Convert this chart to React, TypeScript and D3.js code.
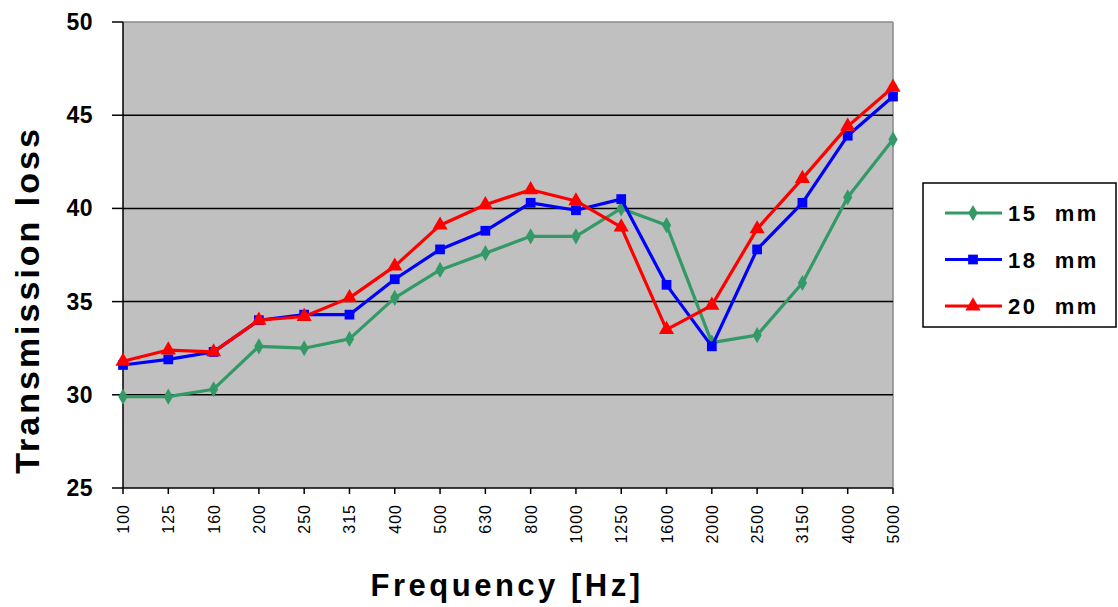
import React from "react";
import * as d3 from "d3";

const categories = ["100", "125", "160", "200", "250", "315", "400", "500", "630", "800", "1000", "1250", "1600", "2000", "2500", "3150", "4000", "5000"];
const s15 = [29.9, 29.9, 30.3, 32.6, 32.5, 33.0, 35.2, 36.7, 37.6, 38.5, 38.5, 40.0, 39.1, 32.8, 33.2, 36.0, 40.6, 43.7];
const s18 = [31.6, 31.9, 32.3, 34.0, 34.3, 34.3, 36.2, 37.8, 38.8, 40.3, 39.9, 40.5, 35.9, 32.6, 37.8, 40.3, 43.9, 46.0];
const s20 = [31.8, 32.4, 32.3, 34.0, 34.2, 35.2, 36.9, 39.1, 40.2, 41.0, 40.4, 39.0, 33.5, 34.8, 38.9, 41.6, 44.4, 46.5];
const seriesNames = ["15  mm", "18  mm", "20  mm"];
const yTicks = [25, 30, 35, 40, 45, 50];

const FONT = "Arial, 'Liberation Sans', sans-serif";

const series = [
  { name: seriesNames[0], values: s15, color: "#339966", marker: "diamond" },
  { name: seriesNames[1], values: s18, color: "#0000FF", marker: "square" },
  { name: seriesNames[2], values: s20, color: "#FF0000", marker: "triangle" },
];

function Marker({ type, x, y, color }: { type: string; x: number; y: number; color: string }) {
  let sym;
  if (type === "diamond") sym = d3.symbol(d3.symbolDiamond, 75)();
  else if (type === "square") sym = d3.symbol(d3.symbolSquare, 95)();
  else sym = d3.symbol(d3.symbolTriangle, 100)();
  return <path d={sym || ""} transform={`translate(${x},${y})`} fill={color} />;
}

export default function App() {
  const left = 123, right = 893, top = 22, bottom = 488;
  const x = d3.scalePoint<string>().domain(categories).range([left, right]);
  const y = d3.scaleLinear().domain([25, 50]).range([bottom, top]);
  const line = d3.line<number>().x((_, i) => x(categories[i]) as number).y((d) => y(d));

  return (
    <svg width={1118} height={607} style={{ position: "absolute", left: 0, top: 0, background: "#fff" }}>
      <rect x={left} y={top} width={right - left} height={bottom - top} fill="#C0C0C0" stroke="none" />
      <line x1={left} x2={right} y1={top} y2={top} stroke="#8a8a8a" strokeWidth={1.5} />
      <line x1={right} x2={right} y1={top} y2={bottom} stroke="#8a8a8a" strokeWidth={1.5} />
      {yTicks.filter((t) => t !== 25 && t !== 50).map((t) => (
        <line key={t} x1={left} x2={right} y1={y(t)} y2={y(t)} stroke="#000" strokeWidth={1.5} />
      ))}
      {/* y axis */}
      <line x1={left} x2={left} y1={top} y2={bottom} stroke="#000" strokeWidth={1.5} />
      {yTicks.map((t) => (
        <g key={t}>
          <line x1={left - 11} x2={left} y1={y(t)} y2={y(t)} stroke="#000" strokeWidth={1.5} />
          <text x={93} y={y(t) + 8} textAnchor="end" fontFamily={FONT} fontWeight="bold" fontSize={23} letterSpacing={0.5}>
            {t}
          </text>
        </g>
      ))}
      {/* x axis */}
      <line x1={left} x2={right} y1={bottom} y2={bottom} stroke="#000" strokeWidth={1.5} />
      {categories.map((c) => (
        <g key={c}>
          <line x1={x(c)} x2={x(c)} y1={bottom} y2={bottom + 6} stroke="#000" strokeWidth={1.5} />
          <text
            transform={`translate(${(x(c) as number) + 6},${504}) rotate(-90)`}
            textAnchor="end"
            fontFamily={FONT}
            fontSize={16}
            letterSpacing={1}
          >
            {c}
          </text>
        </g>
      ))}
      {/* series */}
      {series.map((s) => (
        <g key={s.name}>
          <path d={line(s.values) || ""} fill="none" stroke={s.color} strokeWidth={3.2} strokeLinejoin="round" />
          {s.values.map((v, i) => (
            <Marker key={i} type={s.marker} x={x(categories[i]) as number} y={y(v)} color={s.color} />
          ))}
        </g>
      ))}
      {/* axis titles */}
      <text x={507} y={596} textAnchor="middle" fontFamily={FONT} fontWeight="bold" fontSize={31} letterSpacing={3.5}>
        Frequency [Hz]
      </text>
      <text transform={`translate(39,300) rotate(-90)`} textAnchor="middle" fontFamily={FONT} fontWeight="bold" fontSize={34} letterSpacing={3}>
        Transmission loss
      </text>
      {/* legend */}
      <rect x={923} y={183} width={193} height={144} fill="#fff" stroke="#000" strokeWidth={1.5} />
      {series.map((s, i) => {
        const ly = 213 + i * 46.5;
        return (
          <g key={s.name}>
            <line x1={945} x2={1002} y1={ly} y2={ly} stroke={s.color} strokeWidth={3} />
            <Marker type={s.marker} x={973} y={ly} color={s.color} />
            <text x={1008} y={ly + 8} fontFamily={FONT} fontWeight="bold" fontSize={22} letterSpacing={2.5} style={{ whiteSpace: "pre" }}>
              {s.name}
            </text>
          </g>
        );
      })}
    </svg>
  );
}
